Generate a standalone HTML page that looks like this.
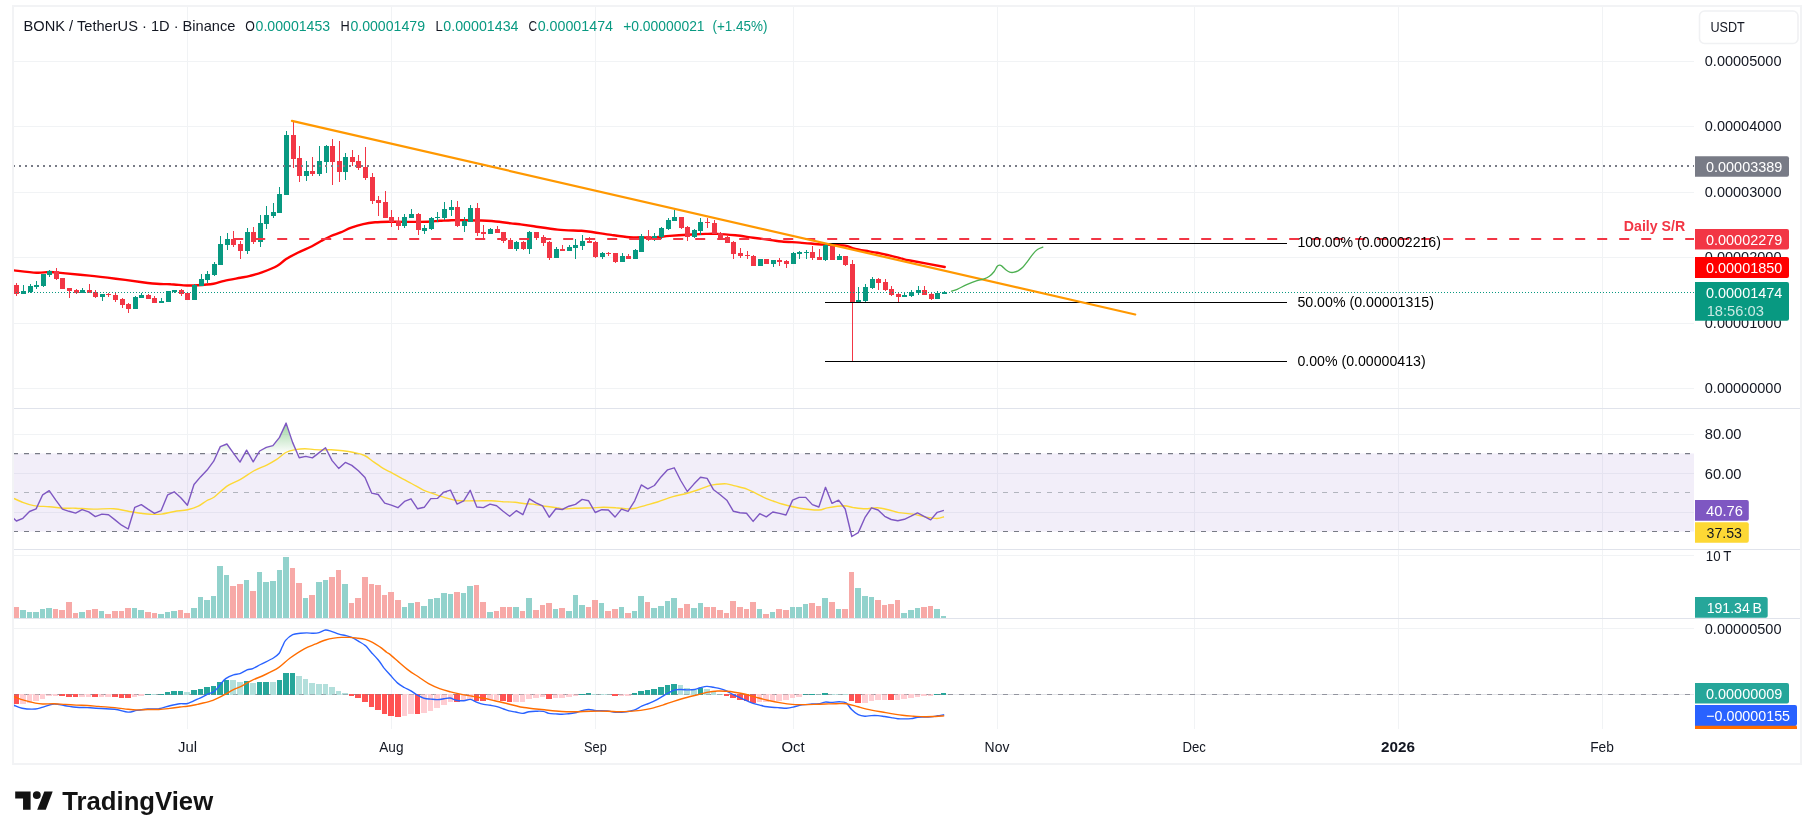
<!DOCTYPE html>
<html lang="en"><head><meta charset="utf-8"><title>BONK / TetherUS chart</title>
<style>html,body{margin:0;padding:0;background:#fff;overflow:hidden}svg{display:block;will-change:transform}text{font-family:"Liberation Sans", Arial, sans-serif;white-space:pre}</style></head><body>
<svg width="1814" height="839" viewBox="0 0 1814 839">
<defs><clipPath id="cp"><rect x="14" y="7" width="1680" height="722"/></clipPath>
<clipPath id="cax"><rect x="1694" y="7" width="106" height="722"/></clipPath>
<linearGradient id="ob" x1="0" y1="423" x2="0" y2="453.5" gradientUnits="userSpaceOnUse"><stop offset="0" stop-color="#4caf50" stop-opacity="0.55"/><stop offset="1" stop-color="#4caf50" stop-opacity="0"/></linearGradient>
<clipPath id="above70"><rect x="14" y="409" width="1680" height="44.5"/></clipPath>
</defs>
<rect width="1814" height="839" fill="#fff"/>
<g fill="#f2f3f5"><rect x="12" y="5" width="1790" height="2"/><rect x="12" y="5" width="2" height="760"/><rect x="1800" y="5" width="2" height="760"/><rect x="12" y="763" width="1790" height="2"/></g>
<g stroke="#f1f3f5" stroke-width="1" shape-rendering="crispEdges">
<line x1="187.5" y1="7" x2="187.5" y2="728.5"/>
<line x1="391.5" y1="7" x2="391.5" y2="728.5"/>
<line x1="595.5" y1="7" x2="595.5" y2="728.5"/>
<line x1="793.5" y1="7" x2="793.5" y2="728.5"/>
<line x1="997.5" y1="7" x2="997.5" y2="728.5"/>
<line x1="1194.5" y1="7" x2="1194.5" y2="728.5"/>
<line x1="1398.5" y1="7" x2="1398.5" y2="728.5"/>
<line x1="1602.5" y1="7" x2="1602.5" y2="728.5"/>
<line x1="14" y1="61.5" x2="1694" y2="61.5"/>
<line x1="14" y1="126.5" x2="1694" y2="126.5"/>
<line x1="14" y1="192.5" x2="1694" y2="192.5"/>
<line x1="14" y1="257.5" x2="1694" y2="257.5"/>
<line x1="14" y1="323.5" x2="1694" y2="323.5"/>
<line x1="14" y1="388.5" x2="1694" y2="388.5"/>
<line x1="14" y1="434.5" x2="1694" y2="434.5"/>
<line x1="14" y1="473.5" x2="1694" y2="473.5"/>
<line x1="14" y1="512.5" x2="1694" y2="512.5"/>
<line x1="14" y1="555.5" x2="1694" y2="555.5"/>
<line x1="14" y1="628.5" x2="1694" y2="628.5"/>
<line x1="14" y1="694.5" x2="1694" y2="694.5"/>
</g>
<g clip-path="url(#cp)">
<rect x="14" y="453.5" width="1680" height="78" fill="#7e57c2" fill-opacity="0.1"/>
<g shape-rendering="crispEdges">
<rect x="13" y="607" width="6" height="11" fill="#f7a9a7"/>
<rect x="20" y="610" width="6" height="8" fill="#92d2cc"/>
<rect x="27" y="612" width="5" height="6" fill="#92d2cc"/>
<rect x="33" y="612" width="6" height="6" fill="#92d2cc"/>
<rect x="40" y="609" width="5" height="9" fill="#92d2cc"/>
<rect x="46" y="608" width="6" height="10" fill="#92d2cc"/>
<rect x="53" y="609" width="5" height="9" fill="#f7a9a7"/>
<rect x="59" y="610" width="6" height="8" fill="#f7a9a7"/>
<rect x="66" y="602" width="6" height="16" fill="#f7a9a7"/>
<rect x="73" y="613" width="5" height="5" fill="#f7a9a7"/>
<rect x="79" y="612" width="6" height="6" fill="#92d2cc"/>
<rect x="86" y="610" width="5" height="8" fill="#f7a9a7"/>
<rect x="92" y="609" width="6" height="9" fill="#f7a9a7"/>
<rect x="99" y="611" width="5" height="7" fill="#92d2cc"/>
<rect x="105" y="614" width="6" height="4" fill="#f7a9a7"/>
<rect x="112" y="611" width="6" height="7" fill="#f7a9a7"/>
<rect x="119" y="611" width="5" height="7" fill="#f7a9a7"/>
<rect x="125" y="608" width="6" height="10" fill="#f7a9a7"/>
<rect x="132" y="608" width="5" height="10" fill="#92d2cc"/>
<rect x="138" y="610" width="6" height="8" fill="#92d2cc"/>
<rect x="145" y="612" width="6" height="6" fill="#f7a9a7"/>
<rect x="152" y="613" width="5" height="5" fill="#f7a9a7"/>
<rect x="158" y="614" width="6" height="4" fill="#92d2cc"/>
<rect x="165" y="612" width="5" height="6" fill="#92d2cc"/>
<rect x="171" y="611" width="6" height="7" fill="#92d2cc"/>
<rect x="178" y="610" width="5" height="8" fill="#f7a9a7"/>
<rect x="184" y="613" width="6" height="5" fill="#f7a9a7"/>
<rect x="191" y="608" width="6" height="10" fill="#92d2cc"/>
<rect x="198" y="597" width="5" height="21" fill="#92d2cc"/>
<rect x="204" y="600" width="6" height="18" fill="#92d2cc"/>
<rect x="211" y="596" width="5" height="22" fill="#92d2cc"/>
<rect x="217" y="566" width="6" height="52" fill="#92d2cc"/>
<rect x="224" y="575" width="5" height="43" fill="#92d2cc"/>
<rect x="230" y="586" width="6" height="32" fill="#f7a9a7"/>
<rect x="237" y="584" width="6" height="34" fill="#f7a9a7"/>
<rect x="244" y="580" width="5" height="38" fill="#92d2cc"/>
<rect x="250" y="591" width="6" height="27" fill="#f7a9a7"/>
<rect x="257" y="572" width="5" height="46" fill="#92d2cc"/>
<rect x="263" y="582" width="6" height="36" fill="#92d2cc"/>
<rect x="270" y="581" width="6" height="37" fill="#92d2cc"/>
<rect x="277" y="570" width="5" height="48" fill="#92d2cc"/>
<rect x="283" y="557" width="6" height="61" fill="#92d2cc"/>
<rect x="290" y="568" width="5" height="50" fill="#f7a9a7"/>
<rect x="296" y="583" width="6" height="35" fill="#f7a9a7"/>
<rect x="303" y="598" width="5" height="20" fill="#92d2cc"/>
<rect x="309" y="595" width="6" height="23" fill="#f7a9a7"/>
<rect x="316" y="582" width="6" height="36" fill="#92d2cc"/>
<rect x="323" y="580" width="5" height="38" fill="#92d2cc"/>
<rect x="329" y="577" width="6" height="41" fill="#f7a9a7"/>
<rect x="336" y="570" width="5" height="48" fill="#f7a9a7"/>
<rect x="342" y="584" width="6" height="34" fill="#92d2cc"/>
<rect x="349" y="603" width="5" height="15" fill="#f7a9a7"/>
<rect x="355" y="598" width="6" height="20" fill="#f7a9a7"/>
<rect x="362" y="577" width="6" height="41" fill="#f7a9a7"/>
<rect x="369" y="584" width="5" height="34" fill="#f7a9a7"/>
<rect x="375" y="585" width="6" height="33" fill="#f7a9a7"/>
<rect x="382" y="595" width="5" height="23" fill="#f7a9a7"/>
<rect x="388" y="592" width="6" height="26" fill="#f7a9a7"/>
<rect x="395" y="600" width="6" height="18" fill="#f7a9a7"/>
<rect x="402" y="607" width="5" height="11" fill="#92d2cc"/>
<rect x="408" y="603" width="6" height="15" fill="#92d2cc"/>
<rect x="415" y="602" width="5" height="16" fill="#f7a9a7"/>
<rect x="421" y="606" width="6" height="12" fill="#92d2cc"/>
<rect x="428" y="599" width="5" height="19" fill="#92d2cc"/>
<rect x="434" y="598" width="6" height="20" fill="#92d2cc"/>
<rect x="441" y="593" width="6" height="25" fill="#92d2cc"/>
<rect x="448" y="594" width="5" height="24" fill="#92d2cc"/>
<rect x="454" y="592" width="6" height="26" fill="#f7a9a7"/>
<rect x="461" y="593" width="5" height="25" fill="#92d2cc"/>
<rect x="467" y="586" width="6" height="32" fill="#92d2cc"/>
<rect x="474" y="585" width="5" height="33" fill="#f7a9a7"/>
<rect x="480" y="602" width="6" height="16" fill="#f7a9a7"/>
<rect x="487" y="612" width="6" height="6" fill="#92d2cc"/>
<rect x="494" y="611" width="5" height="7" fill="#f7a9a7"/>
<rect x="500" y="607" width="6" height="11" fill="#f7a9a7"/>
<rect x="507" y="607" width="5" height="11" fill="#f7a9a7"/>
<rect x="513" y="607" width="6" height="11" fill="#92d2cc"/>
<rect x="520" y="611" width="5" height="7" fill="#f7a9a7"/>
<rect x="526" y="598" width="6" height="20" fill="#92d2cc"/>
<rect x="533" y="610" width="6" height="8" fill="#f7a9a7"/>
<rect x="540" y="605" width="5" height="13" fill="#f7a9a7"/>
<rect x="546" y="603" width="6" height="15" fill="#f7a9a7"/>
<rect x="553" y="609" width="5" height="9" fill="#92d2cc"/>
<rect x="559" y="608" width="6" height="10" fill="#f7a9a7"/>
<rect x="566" y="611" width="6" height="7" fill="#92d2cc"/>
<rect x="573" y="595" width="5" height="23" fill="#92d2cc"/>
<rect x="579" y="605" width="6" height="13" fill="#92d2cc"/>
<rect x="586" y="607" width="5" height="11" fill="#f7a9a7"/>
<rect x="592" y="600" width="6" height="18" fill="#f7a9a7"/>
<rect x="599" y="603" width="5" height="15" fill="#92d2cc"/>
<rect x="605" y="611" width="6" height="7" fill="#f7a9a7"/>
<rect x="612" y="609" width="6" height="9" fill="#f7a9a7"/>
<rect x="619" y="607" width="5" height="11" fill="#92d2cc"/>
<rect x="625" y="613" width="6" height="5" fill="#f7a9a7"/>
<rect x="632" y="611" width="5" height="7" fill="#92d2cc"/>
<rect x="638" y="596" width="6" height="22" fill="#92d2cc"/>
<rect x="645" y="602" width="5" height="16" fill="#f7a9a7"/>
<rect x="651" y="608" width="6" height="10" fill="#92d2cc"/>
<rect x="658" y="606" width="6" height="12" fill="#92d2cc"/>
<rect x="665" y="601" width="5" height="17" fill="#92d2cc"/>
<rect x="671" y="598" width="6" height="20" fill="#92d2cc"/>
<rect x="678" y="608" width="5" height="10" fill="#f7a9a7"/>
<rect x="684" y="604" width="6" height="14" fill="#f7a9a7"/>
<rect x="691" y="608" width="6" height="10" fill="#92d2cc"/>
<rect x="698" y="603" width="5" height="15" fill="#92d2cc"/>
<rect x="704" y="607" width="6" height="11" fill="#f7a9a7"/>
<rect x="711" y="607" width="5" height="11" fill="#f7a9a7"/>
<rect x="717" y="610" width="6" height="8" fill="#f7a9a7"/>
<rect x="724" y="613" width="5" height="5" fill="#f7a9a7"/>
<rect x="730" y="601" width="6" height="17" fill="#f7a9a7"/>
<rect x="737" y="607" width="6" height="11" fill="#f7a9a7"/>
<rect x="744" y="609" width="5" height="9" fill="#f7a9a7"/>
<rect x="750" y="602" width="6" height="16" fill="#f7a9a7"/>
<rect x="757" y="609" width="5" height="9" fill="#92d2cc"/>
<rect x="763" y="614" width="6" height="4" fill="#f7a9a7"/>
<rect x="770" y="612" width="5" height="6" fill="#92d2cc"/>
<rect x="776" y="609" width="6" height="9" fill="#f7a9a7"/>
<rect x="783" y="610" width="6" height="8" fill="#f7a9a7"/>
<rect x="790" y="607" width="5" height="11" fill="#92d2cc"/>
<rect x="796" y="607" width="6" height="11" fill="#92d2cc"/>
<rect x="803" y="604" width="5" height="14" fill="#92d2cc"/>
<rect x="809" y="603" width="6" height="15" fill="#f7a9a7"/>
<rect x="816" y="606" width="5" height="12" fill="#f7a9a7"/>
<rect x="822" y="598" width="6" height="20" fill="#92d2cc"/>
<rect x="829" y="602" width="6" height="16" fill="#f7a9a7"/>
<rect x="836" y="609" width="5" height="9" fill="#92d2cc"/>
<rect x="842" y="609" width="6" height="9" fill="#f7a9a7"/>
<rect x="849" y="572" width="5" height="46" fill="#f7a9a7"/>
<rect x="855" y="588" width="6" height="30" fill="#92d2cc"/>
<rect x="862" y="596" width="6" height="22" fill="#92d2cc"/>
<rect x="869" y="597" width="5" height="21" fill="#92d2cc"/>
<rect x="875" y="600" width="6" height="18" fill="#f7a9a7"/>
<rect x="882" y="605" width="5" height="13" fill="#f7a9a7"/>
<rect x="888" y="604" width="6" height="14" fill="#f7a9a7"/>
<rect x="895" y="600" width="5" height="18" fill="#f7a9a7"/>
<rect x="901" y="613" width="6" height="5" fill="#92d2cc"/>
<rect x="908" y="610" width="6" height="8" fill="#92d2cc"/>
<rect x="915" y="608" width="5" height="10" fill="#92d2cc"/>
<rect x="921" y="607" width="6" height="11" fill="#f7a9a7"/>
<rect x="928" y="606" width="5" height="12" fill="#f7a9a7"/>
<rect x="934" y="609" width="6" height="9" fill="#92d2cc"/>
<rect x="941" y="616" width="5" height="2" fill="#92d2cc"/>
</g>
<line x1="14" y1="694.5" x2="1694" y2="694.5" stroke="#e4e5e9" stroke-width="1"/>
<line x1="13" y1="694.5" x2="1694" y2="694.5" stroke="#a9acb4" stroke-width="1.1" stroke-dasharray="5 6"/>
<g shape-rendering="crispEdges">
<rect x="13" y="694" width="6" height="10" fill="#ff5252"/>
<rect x="20" y="694" width="6" height="10" fill="#ffcdd2"/>
<rect x="27" y="694" width="5" height="9" fill="#ffcdd2"/>
<rect x="33" y="694" width="6" height="7" fill="#ffcdd2"/>
<rect x="40" y="694" width="5" height="5" fill="#ffcdd2"/>
<rect x="46" y="694" width="6" height="2" fill="#ffcdd2"/>
<rect x="53" y="694" width="5" height="2" fill="#ffcdd2"/>
<rect x="59" y="694" width="6" height="2" fill="#ff5252"/>
<rect x="66" y="694" width="6" height="3" fill="#ff5252"/>
<rect x="73" y="694" width="5" height="3" fill="#ff5252"/>
<rect x="79" y="694" width="6" height="3" fill="#ffcdd2"/>
<rect x="86" y="694" width="5" height="3" fill="#ffcdd2"/>
<rect x="92" y="694" width="6" height="3" fill="#ff5252"/>
<rect x="99" y="694" width="5" height="3" fill="#ffcdd2"/>
<rect x="105" y="694" width="6" height="3" fill="#ffcdd2"/>
<rect x="112" y="694" width="6" height="3" fill="#ff5252"/>
<rect x="119" y="694" width="5" height="4" fill="#ff5252"/>
<rect x="125" y="694" width="6" height="4" fill="#ff5252"/>
<rect x="132" y="694" width="5" height="3" fill="#ffcdd2"/>
<rect x="138" y="694" width="6" height="2" fill="#ffcdd2"/>
<rect x="145" y="694" width="6" height="1" fill="#26a69a"/>
<rect x="152" y="694" width="5" height="1" fill="#b2dfdb"/>
<rect x="158" y="694" width="6" height="1" fill="#26a69a"/>
<rect x="165" y="692" width="5" height="3" fill="#26a69a"/>
<rect x="171" y="691" width="6" height="4" fill="#26a69a"/>
<rect x="178" y="691" width="5" height="4" fill="#26a69a"/>
<rect x="184" y="692" width="6" height="3" fill="#b2dfdb"/>
<rect x="191" y="690" width="6" height="5" fill="#26a69a"/>
<rect x="198" y="689" width="5" height="6" fill="#26a69a"/>
<rect x="204" y="687" width="6" height="8" fill="#26a69a"/>
<rect x="211" y="686" width="5" height="9" fill="#26a69a"/>
<rect x="217" y="682" width="6" height="13" fill="#26a69a"/>
<rect x="224" y="680" width="5" height="15" fill="#26a69a"/>
<rect x="230" y="680" width="6" height="15" fill="#b2dfdb"/>
<rect x="237" y="682" width="6" height="13" fill="#b2dfdb"/>
<rect x="244" y="681" width="5" height="14" fill="#26a69a"/>
<rect x="250" y="683" width="6" height="12" fill="#b2dfdb"/>
<rect x="257" y="682" width="5" height="13" fill="#26a69a"/>
<rect x="263" y="682" width="6" height="13" fill="#26a69a"/>
<rect x="270" y="682" width="6" height="13" fill="#b2dfdb"/>
<rect x="277" y="680" width="5" height="15" fill="#26a69a"/>
<rect x="283" y="673" width="6" height="22" fill="#26a69a"/>
<rect x="290" y="673" width="5" height="22" fill="#26a69a"/>
<rect x="296" y="676" width="6" height="19" fill="#b2dfdb"/>
<rect x="303" y="679" width="5" height="16" fill="#b2dfdb"/>
<rect x="309" y="683" width="6" height="12" fill="#b2dfdb"/>
<rect x="316" y="684" width="6" height="11" fill="#b2dfdb"/>
<rect x="323" y="684" width="5" height="11" fill="#b2dfdb"/>
<rect x="329" y="687" width="6" height="8" fill="#b2dfdb"/>
<rect x="336" y="691" width="5" height="4" fill="#b2dfdb"/>
<rect x="342" y="693" width="6" height="2" fill="#b2dfdb"/>
<rect x="349" y="694" width="5" height="2" fill="#ff5252"/>
<rect x="355" y="694" width="6" height="4" fill="#ff5252"/>
<rect x="362" y="694" width="6" height="8" fill="#ff5252"/>
<rect x="369" y="694" width="5" height="13" fill="#ff5252"/>
<rect x="375" y="694" width="6" height="16" fill="#ff5252"/>
<rect x="382" y="694" width="5" height="20" fill="#ff5252"/>
<rect x="388" y="694" width="6" height="22" fill="#ff5252"/>
<rect x="395" y="694" width="6" height="23" fill="#ff5252"/>
<rect x="402" y="694" width="5" height="22" fill="#ffcdd2"/>
<rect x="408" y="694" width="6" height="20" fill="#ffcdd2"/>
<rect x="415" y="694" width="5" height="20" fill="#ff5252"/>
<rect x="421" y="694" width="6" height="19" fill="#ffcdd2"/>
<rect x="428" y="694" width="5" height="17" fill="#ffcdd2"/>
<rect x="434" y="694" width="6" height="14" fill="#ffcdd2"/>
<rect x="441" y="694" width="6" height="11" fill="#ffcdd2"/>
<rect x="448" y="694" width="5" height="8" fill="#ffcdd2"/>
<rect x="454" y="694" width="6" height="8" fill="#ff5252"/>
<rect x="461" y="694" width="5" height="7" fill="#ffcdd2"/>
<rect x="467" y="694" width="6" height="5" fill="#ffcdd2"/>
<rect x="474" y="694" width="5" height="7" fill="#ff5252"/>
<rect x="480" y="694" width="6" height="7" fill="#ff5252"/>
<rect x="487" y="694" width="6" height="6" fill="#ffcdd2"/>
<rect x="494" y="694" width="5" height="6" fill="#ffcdd2"/>
<rect x="500" y="694" width="6" height="7" fill="#ff5252"/>
<rect x="507" y="694" width="5" height="8" fill="#ff5252"/>
<rect x="513" y="694" width="6" height="8" fill="#ffcdd2"/>
<rect x="520" y="694" width="5" height="8" fill="#ffcdd2"/>
<rect x="526" y="694" width="6" height="5" fill="#ffcdd2"/>
<rect x="533" y="694" width="6" height="4" fill="#ffcdd2"/>
<rect x="540" y="694" width="5" height="3" fill="#ffcdd2"/>
<rect x="546" y="694" width="6" height="5" fill="#ff5252"/>
<rect x="553" y="694" width="5" height="4" fill="#ffcdd2"/>
<rect x="559" y="694" width="6" height="4" fill="#ffcdd2"/>
<rect x="566" y="694" width="6" height="3" fill="#ffcdd2"/>
<rect x="573" y="694" width="5" height="2" fill="#ffcdd2"/>
<rect x="579" y="694" width="6" height="1" fill="#26a69a"/>
<rect x="586" y="693" width="5" height="2" fill="#26a69a"/>
<rect x="592" y="694" width="6" height="1" fill="#b2dfdb"/>
<rect x="599" y="694" width="5" height="1" fill="#b2dfdb"/>
<rect x="605" y="694" width="6" height="1" fill="#b2dfdb"/>
<rect x="612" y="694" width="6" height="2" fill="#ff5252"/>
<rect x="619" y="694" width="5" height="2" fill="#ffcdd2"/>
<rect x="625" y="694" width="6" height="2" fill="#ffcdd2"/>
<rect x="632" y="693" width="5" height="2" fill="#26a69a"/>
<rect x="638" y="691" width="6" height="4" fill="#26a69a"/>
<rect x="645" y="690" width="5" height="5" fill="#26a69a"/>
<rect x="651" y="689" width="6" height="6" fill="#26a69a"/>
<rect x="658" y="687" width="6" height="8" fill="#26a69a"/>
<rect x="665" y="685" width="5" height="10" fill="#26a69a"/>
<rect x="671" y="684" width="6" height="11" fill="#26a69a"/>
<rect x="678" y="685" width="5" height="10" fill="#b2dfdb"/>
<rect x="684" y="688" width="6" height="7" fill="#b2dfdb"/>
<rect x="691" y="690" width="6" height="5" fill="#b2dfdb"/>
<rect x="698" y="688" width="5" height="7" fill="#26a69a"/>
<rect x="704" y="689" width="6" height="6" fill="#b2dfdb"/>
<rect x="711" y="692" width="5" height="3" fill="#b2dfdb"/>
<rect x="717" y="694" width="6" height="1" fill="#b2dfdb"/>
<rect x="724" y="694" width="5" height="2" fill="#ff5252"/>
<rect x="730" y="694" width="6" height="4" fill="#ff5252"/>
<rect x="737" y="694" width="6" height="6" fill="#ff5252"/>
<rect x="744" y="694" width="5" height="7" fill="#ff5252"/>
<rect x="750" y="694" width="6" height="9" fill="#ff5252"/>
<rect x="757" y="694" width="5" height="8" fill="#ffcdd2"/>
<rect x="763" y="694" width="6" height="8" fill="#ffcdd2"/>
<rect x="770" y="694" width="5" height="7" fill="#ffcdd2"/>
<rect x="776" y="694" width="6" height="7" fill="#ffcdd2"/>
<rect x="783" y="694" width="6" height="6" fill="#ffcdd2"/>
<rect x="790" y="694" width="5" height="4" fill="#ffcdd2"/>
<rect x="796" y="694" width="6" height="3" fill="#ffcdd2"/>
<rect x="803" y="694" width="5" height="1" fill="#26a69a"/>
<rect x="809" y="694" width="6" height="1" fill="#26a69a"/>
<rect x="816" y="694" width="5" height="1" fill="#b2dfdb"/>
<rect x="822" y="693" width="6" height="2" fill="#26a69a"/>
<rect x="829" y="694" width="6" height="1" fill="#b2dfdb"/>
<rect x="836" y="694" width="5" height="1" fill="#b2dfdb"/>
<rect x="842" y="694" width="6" height="1" fill="#b2dfdb"/>
<rect x="849" y="694" width="5" height="7" fill="#ff5252"/>
<rect x="855" y="694" width="6" height="9" fill="#ff5252"/>
<rect x="862" y="694" width="6" height="9" fill="#ffcdd2"/>
<rect x="869" y="694" width="5" height="7" fill="#ffcdd2"/>
<rect x="875" y="694" width="6" height="6" fill="#ffcdd2"/>
<rect x="882" y="694" width="5" height="6" fill="#ffcdd2"/>
<rect x="888" y="694" width="6" height="6" fill="#ff5252"/>
<rect x="895" y="694" width="5" height="6" fill="#ffcdd2"/>
<rect x="901" y="694" width="6" height="5" fill="#ffcdd2"/>
<rect x="908" y="694" width="6" height="4" fill="#ffcdd2"/>
<rect x="915" y="694" width="5" height="3" fill="#ffcdd2"/>
<rect x="921" y="694" width="6" height="2" fill="#ffcdd2"/>
<rect x="928" y="694" width="5" height="2" fill="#ffcdd2"/>
<rect x="934" y="694" width="6" height="1" fill="#26a69a"/>
<rect x="941" y="693" width="5" height="2" fill="#26a69a"/>
</g>
<line x1="13" y1="694.5" x2="1694" y2="694.5" stroke="#787b86" stroke-opacity="0.45" stroke-width="1.1" stroke-dasharray="5 6"/>
<g stroke-width="1.15" stroke-dasharray="5 6" fill="none"><line x1="13" y1="453.6" x2="1694" y2="453.6" stroke="#787b86"/><line x1="13" y1="531.5" x2="1694" y2="531.5" stroke="#787b86"/><line x1="13" y1="492.5" x2="1694" y2="492.5" stroke="#b2b5be"/></g>
<polygon clip-path="url(#above70)" fill="url(#ob)" points="9.8,515.0 16.4,521.0 22.9,518.3 29.5,511.5 36.1,508.9 42.7,494.8 49.2,490.7 55.8,500.2 62.4,509.1 69.0,511.3 75.6,513.1 82.1,509.7 88.7,511.9 95.3,516.6 101.9,514.1 108.5,514.7 115.0,519.9 121.6,525.2 128.2,529.0 134.8,507.3 141.3,504.6 147.9,509.1 154.5,513.3 161.1,510.7 167.7,494.8 174.2,491.8 180.8,497.8 187.4,505.3 194.0,484.5 200.5,476.9 207.1,470.1 213.7,461.2 220.3,446.6 226.9,444.0 233.4,453.1 240.0,462.1 246.6,450.2 253.2,461.8 259.7,451.0 266.3,447.4 272.9,445.6 279.5,437.4 286.1,423.1 292.6,442.4 299.2,457.7 305.8,456.4 312.4,457.9 318.9,452.9 325.5,447.8 332.1,460.6 338.7,468.4 345.3,462.4 351.8,465.4 358.4,470.8 365.0,477.6 371.6,493.1 378.2,494.5 384.7,503.2 391.3,505.2 397.9,507.7 404.5,501.4 411.0,498.8 417.6,508.8 424.2,507.3 430.8,498.6 437.4,498.4 443.9,492.1 450.5,490.1 457.1,504.1 463.7,500.8 470.2,490.3 476.8,507.0 483.4,507.6 490.0,504.1 496.6,505.8 503.1,511.2 509.7,516.3 516.3,510.7 522.9,514.7 529.4,498.8 536.0,502.8 542.6,505.9 549.2,517.2 555.8,508.8 562.3,509.5 568.9,506.2 575.5,504.4 582.1,499.4 588.6,500.8 595.2,512.5 601.8,509.7 608.4,510.0 615.0,517.1 621.5,509.1 628.1,511.3 634.7,500.8 641.3,484.9 647.8,488.9 654.4,485.5 661.0,476.9 667.6,469.8 674.2,467.8 680.7,480.5 687.3,491.5 693.9,484.1 700.5,477.2 707.1,478.4 713.6,489.8 720.2,494.8 726.8,500.2 733.4,511.3 739.9,512.7 746.5,513.3 753.1,521.4 759.7,513.7 766.3,516.9 772.8,512.0 779.4,513.4 786.0,515.0 792.6,500.1 799.1,497.4 805.7,497.4 812.3,504.6 818.9,507.0 825.5,487.3 832.0,503.4 838.6,500.1 845.2,509.0 851.8,536.5 858.3,532.6 864.9,517.7 871.5,507.8 878.1,510.0 884.7,516.3 891.2,519.5 897.8,520.7 904.4,519.3 911.0,516.2 917.5,512.9 924.1,516.3 930.7,519.9 937.3,512.3 943.9,510.4 943.9,453.5 9.8,453.5"/>
<path fill="none" stroke="#fdd835" stroke-width="1.4" stroke-linejoin="round" d="M9.0 496.0C9.7 496.3 10.8 497.0 13.0 498.0C15.2 499.0 18.4 500.7 21.9 502.0C25.4 503.3 29.2 504.8 33.8 505.6C38.4 506.4 44.3 506.3 49.3 506.7C54.3 507.1 59.2 507.9 63.6 508.2C68.0 508.4 70.6 508.0 75.6 508.2C80.6 508.4 87.1 509.0 93.4 509.1C99.8 509.2 107.7 508.3 113.7 508.7C119.7 509.1 124.6 510.7 129.2 511.5C133.8 512.3 137.5 512.8 141.1 513.3C144.7 513.8 147.2 514.2 150.6 514.3C154.0 514.4 157.4 514.6 161.4 514.1C165.4 513.6 170.1 512.2 174.5 511.5C178.9 510.8 183.6 510.6 187.6 509.7C191.6 508.8 195.1 507.7 198.3 506.2C201.5 504.7 204.3 502.0 207.0 500.5C209.7 499.0 210.9 499.4 214.3 497.0C217.7 494.6 223.0 488.8 227.4 485.9C231.8 483.0 236.1 481.9 240.5 479.4C244.9 476.9 249.2 473.4 253.6 471.0C258.0 468.6 262.9 467.0 266.7 465.1C270.5 463.2 273.1 461.8 276.3 459.7C279.5 457.6 282.6 454.2 285.8 452.5C289.0 450.8 292.2 450.2 295.4 449.6C298.6 449.0 301.7 448.7 304.9 448.7C308.1 448.7 311.0 449.4 314.4 449.6C317.8 449.8 322.3 449.9 325.1 449.9C327.9 449.9 328.1 449.6 331.1 449.8C334.1 450.0 339.2 450.4 343.0 450.8C346.8 451.2 350.2 451.7 353.8 452.5C357.4 453.3 361.1 453.9 364.5 455.5C367.9 457.1 370.8 459.9 374.0 462.1C377.2 464.3 380.8 466.9 383.6 468.6C386.4 470.3 388.1 470.8 390.7 472.2C393.3 473.6 396.0 475.3 399.5 477.2C403.0 479.1 407.5 481.4 411.5 483.5C415.5 485.6 419.8 488.4 423.4 490.1C427.0 491.8 429.5 492.4 432.9 493.6C436.3 494.8 439.6 496.1 443.6 497.2C447.6 498.3 451.7 499.9 456.7 500.5C461.7 501.1 467.6 500.8 473.4 500.8C479.2 500.9 486.3 500.7 491.3 500.8C496.3 500.9 499.2 501.4 503.2 501.7C507.2 501.9 511.7 502.0 515.1 502.3C518.5 502.6 520.5 503.2 523.5 503.5C526.5 503.8 529.4 503.7 533.0 504.1C536.6 504.6 540.9 505.6 544.9 506.2C548.9 506.8 553.7 507.2 556.9 507.7C560.1 508.1 561.0 508.8 564.0 508.9C567.0 509.0 571.2 508.4 574.7 508.3C578.2 508.2 582.1 508.1 585.0 508.0C587.9 507.9 588.8 508.0 591.9 507.9C595.0 507.8 599.8 507.3 603.8 507.3C607.8 507.3 612.2 507.4 615.8 507.7C619.4 507.9 622.3 508.7 625.3 508.8C628.3 508.9 630.2 509.1 633.6 508.5C637.0 507.9 641.6 506.4 645.6 505.3C649.6 504.2 652.9 503.4 657.5 502.0C662.1 500.6 668.0 498.1 673.0 496.6C678.0 495.2 682.9 494.5 687.3 493.3C691.7 492.1 695.6 490.7 699.2 489.5C702.8 488.3 705.7 486.8 708.7 485.9C711.7 485.0 714.1 484.6 717.1 484.3C720.1 484.0 723.6 483.6 726.6 483.9C729.6 484.2 731.5 485.0 734.9 485.9C738.3 486.8 743.3 487.8 746.9 489.1C750.5 490.4 753.2 492.1 756.4 493.6C759.6 495.2 763.1 497.2 765.9 498.4C768.7 499.6 770.4 500.1 773.1 501.0C775.8 501.9 777.5 502.8 781.9 504.0C786.3 505.2 793.6 507.2 799.8 508.2C806.0 509.2 814.3 510.1 818.9 510.0C823.5 509.9 823.0 508.6 827.2 507.9C831.4 507.2 839.5 505.9 843.9 505.8C848.3 505.8 849.8 507.1 853.4 507.6C857.0 508.1 861.4 508.8 865.4 508.8C869.4 508.8 873.3 507.6 877.3 507.8C881.3 508.0 885.6 509.2 889.2 510.0C892.8 510.8 894.7 511.9 898.7 512.6C902.7 513.3 908.6 513.4 913.0 514.1C917.4 514.8 920.9 516.2 924.9 516.9C928.9 517.6 933.7 518.5 936.9 518.5C940.1 518.5 942.8 517.1 944.0 516.8"/>
<polyline fill="none" stroke="#7e57c2" stroke-width="1.4" stroke-linejoin="round" points="9.8,515.0 16.4,521.0 22.9,518.3 29.5,511.5 36.1,508.9 42.7,494.8 49.2,490.7 55.8,500.2 62.4,509.1 69.0,511.3 75.6,513.1 82.1,509.7 88.7,511.9 95.3,516.6 101.9,514.1 108.5,514.7 115.0,519.9 121.6,525.2 128.2,529.0 134.8,507.3 141.3,504.6 147.9,509.1 154.5,513.3 161.1,510.7 167.7,494.8 174.2,491.8 180.8,497.8 187.4,505.3 194.0,484.5 200.5,476.9 207.1,470.1 213.7,461.2 220.3,446.6 226.9,444.0 233.4,453.1 240.0,462.1 246.6,450.2 253.2,461.8 259.7,451.0 266.3,447.4 272.9,445.6 279.5,437.4 286.1,423.1 292.6,442.4 299.2,457.7 305.8,456.4 312.4,457.9 318.9,452.9 325.5,447.8 332.1,460.6 338.7,468.4 345.3,462.4 351.8,465.4 358.4,470.8 365.0,477.6 371.6,493.1 378.2,494.5 384.7,503.2 391.3,505.2 397.9,507.7 404.5,501.4 411.0,498.8 417.6,508.8 424.2,507.3 430.8,498.6 437.4,498.4 443.9,492.1 450.5,490.1 457.1,504.1 463.7,500.8 470.2,490.3 476.8,507.0 483.4,507.6 490.0,504.1 496.6,505.8 503.1,511.2 509.7,516.3 516.3,510.7 522.9,514.7 529.4,498.8 536.0,502.8 542.6,505.9 549.2,517.2 555.8,508.8 562.3,509.5 568.9,506.2 575.5,504.4 582.1,499.4 588.6,500.8 595.2,512.5 601.8,509.7 608.4,510.0 615.0,517.1 621.5,509.1 628.1,511.3 634.7,500.8 641.3,484.9 647.8,488.9 654.4,485.5 661.0,476.9 667.6,469.8 674.2,467.8 680.7,480.5 687.3,491.5 693.9,484.1 700.5,477.2 707.1,478.4 713.6,489.8 720.2,494.8 726.8,500.2 733.4,511.3 739.9,512.7 746.5,513.3 753.1,521.4 759.7,513.7 766.3,516.9 772.8,512.0 779.4,513.4 786.0,515.0 792.6,500.1 799.1,497.4 805.7,497.4 812.3,504.6 818.9,507.0 825.5,487.3 832.0,503.4 838.6,500.1 845.2,509.0 851.8,536.5 858.3,532.6 864.9,517.7 871.5,507.8 878.1,510.0 884.7,516.3 891.2,519.5 897.8,520.7 904.4,519.3 911.0,516.2 917.5,512.9 924.1,516.3 930.7,519.9 937.3,512.3 943.9,510.4"/>
<path fill="none" stroke="#2962ff" stroke-width="1.4" stroke-linejoin="round" d="M9.0 703.5C9.7 703.8 11.1 704.3 13.3 705.1C15.5 705.9 18.4 707.6 22.1 708.2C25.8 708.9 31.9 709.2 35.4 709.0C38.9 708.8 40.0 707.9 43.1 707.1C46.2 706.3 50.4 704.2 54.1 704.0C57.8 703.8 61.4 705.2 65.1 705.7C68.8 706.2 72.5 707.0 76.2 707.3C79.9 707.6 83.9 707.5 87.2 707.6C90.5 707.8 91.4 707.9 96.0 708.2C100.6 708.5 109.4 708.6 114.7 709.3C120.0 709.9 124.3 711.9 128.0 712.1C131.7 712.3 133.5 710.9 136.8 710.4C140.1 709.9 144.1 709.3 147.8 709.0C151.5 708.7 155.1 709.3 158.8 708.8C162.5 708.2 166.4 706.6 169.9 705.7C173.4 704.9 176.9 704.1 179.8 703.7C182.7 703.3 184.6 704.3 187.5 703.5C190.4 702.7 195.3 700.0 197.4 699.1C199.5 698.2 198.3 699.0 200.0 698.2C201.7 697.4 205.3 695.2 207.7 694.1C210.1 693.0 212.3 692.9 214.2 691.5C216.1 690.1 217.4 687.9 219.3 685.7C221.2 683.6 223.3 680.4 225.7 678.6C228.1 676.8 231.1 675.6 233.5 674.8C235.9 674.0 237.7 674.5 239.9 673.7C242.2 672.9 244.8 670.8 247.0 669.9C249.2 669.0 250.6 669.5 252.8 668.6C255.1 667.7 257.1 666.3 260.5 664.5C263.9 662.7 270.3 659.9 273.4 658.0C276.5 656.1 277.7 655.2 279.2 653.3C280.7 651.4 281.3 648.6 282.4 646.5C283.5 644.4 283.9 642.4 285.6 640.4C287.3 638.4 290.2 635.8 292.7 634.6C295.2 633.4 298.0 633.6 300.4 633.3C302.8 633.0 304.6 632.9 306.8 632.9C309.0 632.9 311.2 633.3 313.3 633.3C315.4 633.2 317.1 633.1 319.1 632.6C321.1 632.1 323.5 630.2 325.5 630.0C327.5 629.8 329.1 630.6 331.3 631.3C333.6 632.0 336.6 633.5 339.0 634.2C341.4 634.9 343.2 635.0 345.4 635.5C347.5 636.0 349.8 636.5 351.9 637.4C354.0 638.3 356.1 639.7 358.3 641.1C360.6 642.5 363.2 643.8 365.4 645.6C367.5 647.5 369.0 649.8 371.2 652.2C373.4 654.6 376.1 657.4 378.3 660.0C380.5 662.6 382.2 665.6 384.1 668.1C386.1 670.6 387.7 672.3 390.0 674.8C392.3 677.3 395.3 681.0 397.7 683.1C400.1 685.2 402.1 686.2 404.3 687.5C406.5 688.8 408.7 689.5 410.9 690.8C413.1 692.1 415.4 694.0 417.6 695.2C419.8 696.5 422.0 697.6 424.2 698.3C426.4 698.9 428.6 698.9 430.8 699.1C433.0 699.3 435.2 699.7 437.4 699.6C439.6 699.5 441.9 699.1 444.0 698.8C446.1 698.5 448.1 697.8 450.1 698.0C452.1 698.2 453.9 699.8 456.2 700.2C458.5 700.7 461.5 700.8 463.9 700.7C466.3 700.6 468.3 699.1 470.5 699.4C472.7 699.7 474.9 701.6 477.1 702.4C479.3 703.2 481.5 703.9 483.7 704.4C485.9 704.9 488.1 704.9 490.3 705.3C492.5 705.7 494.7 706.0 496.9 706.6C499.1 707.2 501.6 708.3 503.6 709.0C505.6 709.7 507.1 710.4 509.1 710.9C511.1 711.4 513.5 711.6 515.7 712.0C517.9 712.4 520.1 713.4 522.3 713.4C524.5 713.4 526.7 712.1 528.9 711.7C531.1 711.3 533.1 711.2 535.5 711.2C537.9 711.2 541.1 711.0 543.3 711.4C545.5 711.8 546.8 713.0 548.8 713.4C550.8 713.8 553.2 713.8 555.4 713.9C557.6 714.0 559.8 714.2 562.0 714.2C564.2 714.2 566.4 713.9 568.6 713.7C570.8 713.5 573.0 713.3 575.2 712.8C577.4 712.3 579.5 711.1 581.8 710.6C584.1 710.1 586.3 709.5 588.8 709.5C591.2 709.5 593.4 710.4 596.5 710.6C599.6 710.8 604.5 710.6 607.6 710.9C610.7 711.2 612.2 712.2 615.3 712.3C618.4 712.4 623.2 712.1 626.3 711.7C629.4 711.3 631.4 711.0 634.0 710.1C636.6 709.2 639.3 707.3 641.7 706.2C644.1 705.1 646.2 704.4 648.4 703.5C650.6 702.6 652.8 701.8 655.0 700.7C657.2 699.6 659.4 698.2 661.6 696.9C663.8 695.6 666.0 694.2 668.2 693.0C670.4 691.8 672.6 690.5 674.8 689.9C677.0 689.3 679.2 689.5 681.4 689.5C683.6 689.5 685.8 689.9 688.0 689.9C690.2 689.9 692.7 689.9 694.7 689.5C696.7 689.1 698.2 688.3 700.2 687.8C702.2 687.3 704.6 686.5 706.8 686.4C709.0 686.3 711.2 686.9 713.4 687.3C715.6 687.7 717.8 688.0 720.0 688.6C722.2 689.2 724.4 690.0 726.6 691.0C728.8 692.0 731.1 693.6 733.3 694.7C735.5 695.8 737.7 696.7 739.9 697.7C742.1 698.7 744.3 699.8 746.5 700.7C748.7 701.6 750.9 702.6 753.1 703.3C755.3 704.0 757.3 704.5 759.7 705.1C762.1 705.7 764.2 706.4 767.4 706.8C770.6 707.2 775.6 707.5 778.8 707.7C782.0 707.9 784.1 708.3 786.5 708.2C788.9 708.1 790.6 707.7 793.2 707.1C795.8 706.5 798.9 705.4 802.0 704.9C805.1 704.4 809.0 704.2 811.9 704.0C814.8 703.8 817.4 704.1 819.6 703.8C821.8 703.5 823.1 702.3 825.1 702.1C827.1 701.9 829.3 702.5 831.7 702.4C834.1 702.3 837.1 701.7 839.5 701.8C841.9 701.9 844.1 701.6 846.1 702.9C848.1 704.2 849.6 707.5 851.6 709.5C853.6 711.5 856.0 713.6 858.2 714.7C860.4 715.8 862.6 716.1 864.8 716.2C867.0 716.4 869.2 715.7 871.4 715.6C873.6 715.5 875.8 715.5 878.0 715.6C880.2 715.8 882.5 716.2 884.7 716.5C886.9 716.8 889.1 717.2 891.3 717.6C893.5 718.0 895.7 718.5 897.9 718.7C900.1 718.9 902.3 718.9 904.5 718.9C906.7 718.9 908.9 718.9 911.1 718.6C913.3 718.3 915.5 717.6 917.7 717.3C919.9 717.0 922.2 717.1 924.4 717.0C926.6 716.9 928.8 717.1 931.0 716.9C933.2 716.7 935.4 716.2 937.6 715.8C939.8 715.4 943.1 714.9 944.2 714.7"/>
<path fill="none" stroke="#ff6d00" stroke-width="1.4" stroke-linejoin="round" d="M9.0 694.5C9.7 694.8 11.3 695.5 13.3 696.3C15.3 697.1 17.3 698.3 21.0 699.4C24.7 700.5 31.7 702.3 35.4 703.1C39.1 703.9 40.0 703.9 43.1 704.0C46.2 704.1 50.4 703.6 54.1 703.7C57.8 703.8 61.4 704.2 65.1 704.4C68.8 704.6 72.5 704.9 76.2 705.1C79.9 705.3 83.5 705.3 87.2 705.5C90.9 705.7 93.6 706.0 98.2 706.4C102.8 706.8 109.7 707.1 114.7 707.6C119.7 708.1 124.3 708.9 128.0 709.3C131.7 709.7 133.5 709.9 136.8 709.9C140.1 709.9 144.1 709.6 147.8 709.5C151.5 709.4 155.1 709.7 158.8 709.5C162.5 709.3 166.4 708.8 169.9 708.4C173.4 708.0 176.9 707.4 179.8 707.0C182.7 706.6 184.6 706.6 187.5 706.2C190.4 705.8 195.3 704.8 197.4 704.4C199.5 704.0 197.4 704.4 200.0 703.7C202.6 703.0 208.6 701.9 212.9 700.3C217.2 698.7 222.3 695.9 225.7 694.1C229.1 692.3 230.9 690.9 233.5 689.6C236.1 688.3 238.2 687.9 241.2 686.4C244.2 684.9 247.6 682.5 251.5 680.6C255.4 678.7 259.9 677.1 264.4 675.0C268.9 672.9 274.2 670.5 278.5 667.7C282.8 664.9 285.8 661.1 290.1 658.0C294.4 654.9 300.0 651.1 304.3 648.8C308.6 646.4 312.3 645.4 315.8 643.9C319.3 642.4 322.5 641.0 325.5 640.0C328.5 639.0 331.2 638.5 333.9 638.1C336.6 637.7 339.0 637.5 341.6 637.4C344.2 637.3 346.7 637.3 349.3 637.4C351.9 637.5 354.3 637.8 357.0 638.1C359.7 638.4 362.8 638.7 365.4 639.4C368.0 640.1 370.0 641.0 372.5 642.3C375.0 643.6 377.8 645.5 380.2 647.1C382.6 648.8 385.0 651.0 386.6 652.2C388.2 653.4 388.0 652.8 390.0 654.4C392.0 656.0 395.7 659.4 398.8 662.1C401.9 664.8 405.4 667.9 408.7 670.4C412.0 672.9 415.4 674.8 418.7 677.0C422.0 679.2 425.1 681.7 428.6 683.6C432.1 685.5 435.9 687.2 439.6 688.6C443.3 690.0 446.9 690.9 450.6 691.9C454.3 692.9 458.0 693.7 461.7 694.4C465.4 695.1 469.0 695.6 472.7 696.3C476.4 696.9 480.0 697.6 483.7 698.3C487.4 699.0 491.0 699.9 494.7 700.7C498.4 701.5 502.1 702.4 505.8 703.3C509.5 704.2 514.0 705.3 516.8 706.0C519.5 706.7 519.5 706.8 522.3 707.3C525.0 707.8 529.6 708.3 533.3 708.7C537.0 709.1 540.7 709.4 544.4 709.8C548.1 710.2 551.7 710.7 555.4 711.0C559.1 711.3 562.7 711.6 566.4 711.7C570.1 711.8 573.3 711.8 577.4 711.7C581.5 711.6 586.0 711.3 591.0 711.2C596.0 711.1 603.0 711.1 607.6 711.2C612.2 711.3 614.9 711.7 618.6 711.7C622.3 711.7 625.9 711.6 629.6 711.4C633.3 711.2 636.9 710.9 640.6 710.4C644.3 709.9 648.0 709.3 651.7 708.4C655.4 707.5 659.0 706.3 662.7 705.1C666.4 703.9 670.0 702.5 673.7 701.3C677.4 700.1 681.0 699.0 684.7 698.0C688.4 697.0 692.1 696.1 695.8 695.2C699.5 694.3 703.1 693.1 706.8 692.4C710.5 691.7 714.5 691.2 717.8 691.0C721.1 690.8 723.8 691.1 726.6 691.3C729.4 691.5 731.3 691.7 734.4 692.2C737.5 692.7 741.7 693.4 745.4 694.3C749.1 695.2 752.7 696.4 756.4 697.4C760.1 698.4 763.3 699.3 767.4 700.2C771.5 701.1 776.9 702.2 781.0 702.9C785.1 703.6 788.4 704.1 792.1 704.4C795.8 704.7 799.4 704.6 803.1 704.6C806.8 704.6 810.4 704.5 814.1 704.4C817.8 704.3 821.4 704.1 825.1 704.0C828.8 703.9 832.7 703.8 836.2 703.7C839.7 703.7 842.4 703.2 846.1 703.7C849.8 704.2 854.0 705.7 858.2 706.8C862.4 707.9 866.8 709.1 871.4 710.1C876.0 711.1 880.6 711.7 885.8 712.6C890.9 713.5 897.7 714.7 902.3 715.3C906.9 715.9 909.6 716.0 913.3 716.2C917.0 716.4 920.7 716.7 924.4 716.7C928.1 716.8 932.1 716.6 935.4 716.5C938.7 716.4 942.7 716.0 944.2 715.9"/>
<path fill="none" stroke="#ff0000" stroke-width="2.4" stroke-linejoin="round" stroke-linecap="round" d="M9.0 269.8C9.8 269.9 8.9 269.8 13.5 270.3C18.1 270.8 30.5 272.4 36.5 272.7C42.5 273.0 45.3 271.9 49.7 272.0C54.1 272.1 56.4 272.5 63.0 273.1C69.6 273.7 80.6 274.7 89.4 275.6C98.2 276.5 107.0 277.6 115.8 278.7C124.6 279.8 134.9 281.3 142.3 282.2C149.7 283.1 155.3 283.7 160.0 284.0C164.7 284.3 166.2 283.9 170.7 284.2C175.2 284.4 182.3 285.3 186.8 285.5C191.3 285.7 193.0 285.6 197.5 285.3C202.0 285.0 209.1 284.4 213.6 283.7C218.1 282.9 219.9 281.8 224.4 280.8C228.9 279.8 236.2 278.6 240.5 277.8C244.8 277.0 246.4 276.8 250.0 275.9C253.6 275.0 257.3 274.1 261.9 272.4C266.5 270.7 273.4 268.0 277.4 265.8C281.4 263.6 282.4 261.5 285.8 259.3C289.2 257.1 293.3 254.9 297.7 252.7C302.1 250.5 308.0 248.2 312.0 246.2C316.0 244.2 318.3 242.5 321.5 240.8C324.7 239.1 327.8 237.4 331.0 236.0C334.2 234.6 337.2 233.8 340.6 232.4C344.0 231.0 347.5 229.1 351.3 227.7C355.1 226.3 359.2 225.0 363.2 224.1C367.2 223.2 370.6 222.7 375.1 222.3C379.6 221.9 385.2 221.8 390.0 221.7C394.8 221.6 397.5 221.9 403.8 221.9C410.1 221.9 421.7 221.9 427.7 221.7C433.7 221.5 435.6 221.1 439.6 220.8C443.6 220.6 447.5 220.3 451.5 220.2C455.5 220.1 458.4 220.1 463.4 220.2C468.4 220.2 475.3 220.2 481.3 220.5C487.3 220.8 494.2 221.2 499.2 221.7C504.2 222.2 507.6 223.0 511.1 223.4C514.6 223.8 516.2 223.8 520.0 224.3C523.8 224.8 527.5 225.3 533.8 226.2C540.1 227.1 549.8 228.8 557.7 229.6C565.7 230.4 575.5 230.4 581.5 230.8C587.5 231.2 588.4 231.5 593.4 232.2C598.4 232.9 605.3 234.1 611.3 234.9C617.3 235.8 624.2 236.9 629.2 237.3C634.2 237.7 637.3 237.2 641.1 237.3C644.9 237.4 647.1 237.9 651.9 237.7C656.7 237.5 663.8 236.4 669.8 235.9C675.8 235.4 681.7 235.0 687.7 234.7C693.7 234.4 700.6 234.0 705.6 233.9C710.6 233.8 712.5 233.7 717.5 233.9C722.5 234.1 729.4 234.7 735.4 235.3C741.4 235.9 747.2 236.9 753.2 237.7C759.2 238.5 766.3 239.5 771.1 240.1C775.9 240.7 777.1 241.1 781.9 241.5C786.7 241.9 793.8 242.2 799.8 242.6C805.8 243.0 812.7 243.8 817.7 244.2C822.7 244.6 825.0 244.6 829.6 244.8C834.2 245.0 841.1 245.0 845.1 245.6C849.1 246.2 850.0 247.5 853.4 248.4C856.8 249.3 861.4 250.1 865.4 250.8C869.4 251.5 873.3 252.0 877.3 252.8C881.3 253.6 885.2 254.5 889.2 255.4C893.2 256.3 897.6 257.5 901.1 258.4C904.6 259.2 902.7 259.1 910.0 260.5C917.3 261.9 938.9 265.9 944.7 267.0"/>
<g shape-rendering="crispEdges">
<rect x="16" y="283" width="1" height="13" fill="#f23645"/>
<rect x="14" y="285" width="5" height="9" fill="#f23645"/>
<rect x="23" y="285" width="1" height="9" fill="#089981"/>
<rect x="21" y="291" width="5" height="3" fill="#089981"/>
<rect x="30" y="284" width="1" height="9" fill="#089981"/>
<rect x="28" y="286" width="5" height="6" fill="#089981"/>
<rect x="36" y="281" width="1" height="8" fill="#089981"/>
<rect x="34" y="285" width="5" height="2" fill="#089981"/>
<rect x="43" y="274" width="1" height="13" fill="#089981"/>
<rect x="41" y="274" width="5" height="12" fill="#089981"/>
<rect x="49" y="270" width="1" height="7" fill="#089981"/>
<rect x="47" y="271" width="5" height="4" fill="#089981"/>
<rect x="56" y="268" width="1" height="12" fill="#f23645"/>
<rect x="54" y="271" width="5" height="8" fill="#f23645"/>
<rect x="62" y="278" width="1" height="11" fill="#f23645"/>
<rect x="60" y="278" width="5" height="11" fill="#f23645"/>
<rect x="69" y="288" width="1" height="10" fill="#f23645"/>
<rect x="67" y="288" width="5" height="3" fill="#f23645"/>
<rect x="76" y="289" width="1" height="5" fill="#f23645"/>
<rect x="74" y="290" width="5" height="3" fill="#f23645"/>
<rect x="82" y="288" width="1" height="5" fill="#089981"/>
<rect x="80" y="290" width="5" height="3" fill="#089981"/>
<rect x="89" y="284" width="1" height="9" fill="#f23645"/>
<rect x="87" y="290" width="5" height="3" fill="#f23645"/>
<rect x="95" y="290" width="1" height="8" fill="#f23645"/>
<rect x="93" y="292" width="5" height="5" fill="#f23645"/>
<rect x="102" y="294" width="1" height="7" fill="#089981"/>
<rect x="100" y="294" width="5" height="3" fill="#089981"/>
<rect x="108" y="293" width="1" height="4" fill="#f23645"/>
<rect x="106" y="294" width="5" height="1" fill="#f23645"/>
<rect x="115" y="292" width="1" height="10" fill="#f23645"/>
<rect x="113" y="295" width="5" height="5" fill="#f23645"/>
<rect x="122" y="298" width="1" height="10" fill="#f23645"/>
<rect x="120" y="299" width="5" height="6" fill="#f23645"/>
<rect x="128" y="303" width="1" height="10" fill="#f23645"/>
<rect x="126" y="304" width="5" height="5" fill="#f23645"/>
<rect x="135" y="296" width="1" height="13" fill="#089981"/>
<rect x="133" y="297" width="5" height="12" fill="#089981"/>
<rect x="141" y="293" width="1" height="5" fill="#089981"/>
<rect x="139" y="295" width="5" height="3" fill="#089981"/>
<rect x="148" y="294" width="1" height="5" fill="#f23645"/>
<rect x="146" y="295" width="5" height="4" fill="#f23645"/>
<rect x="154" y="296" width="1" height="7" fill="#f23645"/>
<rect x="152" y="298" width="5" height="5" fill="#f23645"/>
<rect x="161" y="298" width="1" height="5" fill="#089981"/>
<rect x="159" y="301" width="5" height="2" fill="#089981"/>
<rect x="168" y="291" width="1" height="11" fill="#089981"/>
<rect x="166" y="291" width="5" height="11" fill="#089981"/>
<rect x="174" y="290" width="1" height="3" fill="#089981"/>
<rect x="172" y="290" width="5" height="2" fill="#089981"/>
<rect x="181" y="289" width="1" height="7" fill="#f23645"/>
<rect x="179" y="290" width="5" height="4" fill="#f23645"/>
<rect x="187" y="293" width="1" height="7" fill="#f23645"/>
<rect x="185" y="293" width="5" height="7" fill="#f23645"/>
<rect x="194" y="284" width="1" height="16" fill="#089981"/>
<rect x="192" y="285" width="5" height="15" fill="#089981"/>
<rect x="201" y="274" width="1" height="12" fill="#089981"/>
<rect x="199" y="279" width="5" height="7" fill="#089981"/>
<rect x="207" y="271" width="1" height="12" fill="#089981"/>
<rect x="205" y="274" width="5" height="6" fill="#089981"/>
<rect x="214" y="262" width="1" height="14" fill="#089981"/>
<rect x="212" y="264" width="5" height="11" fill="#089981"/>
<rect x="220" y="236" width="1" height="29" fill="#089981"/>
<rect x="218" y="244" width="5" height="21" fill="#089981"/>
<rect x="227" y="233" width="1" height="17" fill="#089981"/>
<rect x="225" y="239" width="5" height="6" fill="#089981"/>
<rect x="233" y="231" width="1" height="16" fill="#f23645"/>
<rect x="231" y="239" width="5" height="6" fill="#f23645"/>
<rect x="240" y="241" width="1" height="18" fill="#f23645"/>
<rect x="238" y="244" width="5" height="7" fill="#f23645"/>
<rect x="247" y="228" width="1" height="26" fill="#089981"/>
<rect x="245" y="232" width="5" height="19" fill="#089981"/>
<rect x="253" y="227" width="1" height="17" fill="#f23645"/>
<rect x="251" y="232" width="5" height="10" fill="#f23645"/>
<rect x="260" y="215" width="1" height="32" fill="#089981"/>
<rect x="258" y="223" width="5" height="19" fill="#089981"/>
<rect x="266" y="206" width="1" height="23" fill="#089981"/>
<rect x="264" y="215" width="5" height="9" fill="#089981"/>
<rect x="273" y="203" width="1" height="15" fill="#089981"/>
<rect x="271" y="212" width="5" height="4" fill="#089981"/>
<rect x="279" y="187" width="1" height="26" fill="#089981"/>
<rect x="277" y="194" width="5" height="19" fill="#089981"/>
<rect x="286" y="131" width="1" height="64" fill="#089981"/>
<rect x="284" y="135" width="5" height="60" fill="#089981"/>
<rect x="293" y="121" width="1" height="47" fill="#f23645"/>
<rect x="291" y="135" width="5" height="24" fill="#f23645"/>
<rect x="299" y="146" width="1" height="36" fill="#f23645"/>
<rect x="297" y="158" width="5" height="18" fill="#f23645"/>
<rect x="306" y="161" width="1" height="20" fill="#089981"/>
<rect x="304" y="171" width="5" height="5" fill="#089981"/>
<rect x="312" y="157" width="1" height="19" fill="#f23645"/>
<rect x="310" y="171" width="5" height="3" fill="#f23645"/>
<rect x="319" y="146" width="1" height="30" fill="#089981"/>
<rect x="317" y="161" width="5" height="13" fill="#089981"/>
<rect x="326" y="145" width="1" height="28" fill="#089981"/>
<rect x="324" y="146" width="5" height="16" fill="#089981"/>
<rect x="332" y="139" width="1" height="46" fill="#f23645"/>
<rect x="330" y="146" width="5" height="16" fill="#f23645"/>
<rect x="339" y="141" width="1" height="41" fill="#f23645"/>
<rect x="337" y="161" width="5" height="11" fill="#f23645"/>
<rect x="345" y="153" width="1" height="27" fill="#089981"/>
<rect x="343" y="157" width="5" height="15" fill="#089981"/>
<rect x="352" y="150" width="1" height="16" fill="#f23645"/>
<rect x="350" y="157" width="5" height="5" fill="#f23645"/>
<rect x="358" y="155" width="1" height="15" fill="#f23645"/>
<rect x="356" y="161" width="5" height="7" fill="#f23645"/>
<rect x="365" y="147" width="1" height="33" fill="#f23645"/>
<rect x="363" y="167" width="5" height="11" fill="#f23645"/>
<rect x="372" y="173" width="1" height="31" fill="#f23645"/>
<rect x="370" y="177" width="5" height="24" fill="#f23645"/>
<rect x="378" y="196" width="1" height="20" fill="#f23645"/>
<rect x="376" y="200" width="5" height="3" fill="#f23645"/>
<rect x="385" y="191" width="1" height="27" fill="#f23645"/>
<rect x="383" y="202" width="5" height="16" fill="#f23645"/>
<rect x="391" y="210" width="1" height="17" fill="#f23645"/>
<rect x="389" y="217" width="5" height="5" fill="#f23645"/>
<rect x="398" y="217" width="1" height="13" fill="#f23645"/>
<rect x="396" y="221" width="5" height="5" fill="#f23645"/>
<rect x="404" y="214" width="1" height="14" fill="#089981"/>
<rect x="402" y="217" width="5" height="9" fill="#089981"/>
<rect x="411" y="209" width="1" height="9" fill="#089981"/>
<rect x="409" y="214" width="5" height="4" fill="#089981"/>
<rect x="418" y="213" width="1" height="22" fill="#f23645"/>
<rect x="416" y="214" width="5" height="16" fill="#f23645"/>
<rect x="424" y="225" width="1" height="9" fill="#089981"/>
<rect x="422" y="228" width="5" height="3" fill="#089981"/>
<rect x="431" y="217" width="1" height="13" fill="#089981"/>
<rect x="429" y="218" width="5" height="11" fill="#089981"/>
<rect x="437" y="212" width="1" height="10" fill="#089981"/>
<rect x="435" y="217" width="5" height="1" fill="#089981"/>
<rect x="444" y="202" width="1" height="18" fill="#089981"/>
<rect x="442" y="209" width="5" height="9" fill="#089981"/>
<rect x="451" y="200" width="1" height="16" fill="#089981"/>
<rect x="449" y="207" width="5" height="3" fill="#089981"/>
<rect x="457" y="201" width="1" height="26" fill="#f23645"/>
<rect x="455" y="207" width="5" height="19" fill="#f23645"/>
<rect x="464" y="217" width="1" height="15" fill="#089981"/>
<rect x="462" y="221" width="5" height="5" fill="#089981"/>
<rect x="470" y="205" width="1" height="17" fill="#089981"/>
<rect x="468" y="208" width="5" height="14" fill="#089981"/>
<rect x="477" y="203" width="1" height="33" fill="#f23645"/>
<rect x="475" y="208" width="5" height="25" fill="#f23645"/>
<rect x="483" y="225" width="1" height="14" fill="#f23645"/>
<rect x="481" y="232" width="5" height="2" fill="#f23645"/>
<rect x="490" y="228" width="1" height="6" fill="#089981"/>
<rect x="488" y="229" width="5" height="5" fill="#089981"/>
<rect x="497" y="226" width="1" height="7" fill="#f23645"/>
<rect x="495" y="229" width="5" height="4" fill="#f23645"/>
<rect x="503" y="232" width="1" height="11" fill="#f23645"/>
<rect x="501" y="232" width="5" height="9" fill="#f23645"/>
<rect x="510" y="238" width="1" height="11" fill="#f23645"/>
<rect x="508" y="240" width="5" height="9" fill="#f23645"/>
<rect x="516" y="241" width="1" height="10" fill="#089981"/>
<rect x="514" y="242" width="5" height="7" fill="#089981"/>
<rect x="523" y="241" width="1" height="9" fill="#f23645"/>
<rect x="521" y="242" width="5" height="7" fill="#f23645"/>
<rect x="529" y="231" width="1" height="23" fill="#089981"/>
<rect x="527" y="232" width="5" height="17" fill="#089981"/>
<rect x="536" y="232" width="1" height="8" fill="#f23645"/>
<rect x="534" y="232" width="5" height="6" fill="#f23645"/>
<rect x="543" y="235" width="1" height="11" fill="#f23645"/>
<rect x="541" y="237" width="5" height="6" fill="#f23645"/>
<rect x="549" y="241" width="1" height="19" fill="#f23645"/>
<rect x="547" y="242" width="5" height="16" fill="#f23645"/>
<rect x="556" y="247" width="1" height="11" fill="#089981"/>
<rect x="554" y="249" width="5" height="9" fill="#089981"/>
<rect x="562" y="245" width="1" height="6" fill="#f23645"/>
<rect x="560" y="249" width="5" height="2" fill="#f23645"/>
<rect x="569" y="245" width="1" height="6" fill="#089981"/>
<rect x="567" y="247" width="5" height="4" fill="#089981"/>
<rect x="575" y="239" width="1" height="20" fill="#089981"/>
<rect x="573" y="245" width="5" height="3" fill="#089981"/>
<rect x="582" y="235" width="1" height="15" fill="#089981"/>
<rect x="580" y="241" width="5" height="5" fill="#089981"/>
<rect x="589" y="237" width="1" height="6" fill="#f23645"/>
<rect x="587" y="241" width="5" height="2" fill="#f23645"/>
<rect x="595" y="241" width="1" height="17" fill="#f23645"/>
<rect x="593" y="242" width="5" height="15" fill="#f23645"/>
<rect x="602" y="252" width="1" height="7" fill="#089981"/>
<rect x="600" y="253" width="5" height="4" fill="#089981"/>
<rect x="608" y="252" width="1" height="4" fill="#f23645"/>
<rect x="606" y="253" width="5" height="1" fill="#f23645"/>
<rect x="615" y="253" width="1" height="10" fill="#f23645"/>
<rect x="613" y="253" width="5" height="9" fill="#f23645"/>
<rect x="622" y="253" width="1" height="9" fill="#089981"/>
<rect x="620" y="256" width="5" height="6" fill="#089981"/>
<rect x="628" y="254" width="1" height="5" fill="#f23645"/>
<rect x="626" y="256" width="5" height="3" fill="#f23645"/>
<rect x="635" y="249" width="1" height="10" fill="#089981"/>
<rect x="633" y="250" width="5" height="9" fill="#089981"/>
<rect x="641" y="234" width="1" height="18" fill="#089981"/>
<rect x="639" y="236" width="5" height="16" fill="#089981"/>
<rect x="648" y="230" width="1" height="11" fill="#f23645"/>
<rect x="646" y="236" width="5" height="4" fill="#f23645"/>
<rect x="654" y="233" width="1" height="8" fill="#089981"/>
<rect x="652" y="236" width="5" height="2" fill="#089981"/>
<rect x="661" y="227" width="1" height="12" fill="#089981"/>
<rect x="659" y="228" width="5" height="9" fill="#089981"/>
<rect x="668" y="218" width="1" height="12" fill="#089981"/>
<rect x="666" y="220" width="5" height="9" fill="#089981"/>
<rect x="674" y="210" width="1" height="11" fill="#089981"/>
<rect x="672" y="217" width="5" height="4" fill="#089981"/>
<rect x="681" y="217" width="1" height="12" fill="#f23645"/>
<rect x="679" y="217" width="5" height="11" fill="#f23645"/>
<rect x="687" y="226" width="1" height="15" fill="#f23645"/>
<rect x="685" y="227" width="5" height="10" fill="#f23645"/>
<rect x="694" y="229" width="1" height="9" fill="#089981"/>
<rect x="692" y="230" width="5" height="7" fill="#089981"/>
<rect x="700" y="218" width="1" height="17" fill="#089981"/>
<rect x="698" y="222" width="5" height="9" fill="#089981"/>
<rect x="707" y="218" width="1" height="10" fill="#f23645"/>
<rect x="705" y="222" width="5" height="1" fill="#f23645"/>
<rect x="714" y="220" width="1" height="14" fill="#f23645"/>
<rect x="712" y="223" width="5" height="11" fill="#f23645"/>
<rect x="720" y="232" width="1" height="7" fill="#f23645"/>
<rect x="718" y="233" width="5" height="6" fill="#f23645"/>
<rect x="727" y="236" width="1" height="7" fill="#f23645"/>
<rect x="725" y="237" width="5" height="6" fill="#f23645"/>
<rect x="733" y="241" width="1" height="18" fill="#f23645"/>
<rect x="731" y="242" width="5" height="12" fill="#f23645"/>
<rect x="740" y="248" width="1" height="10" fill="#f23645"/>
<rect x="738" y="253" width="5" height="3" fill="#f23645"/>
<rect x="747" y="251" width="1" height="8" fill="#f23645"/>
<rect x="745" y="255" width="5" height="1" fill="#f23645"/>
<rect x="753" y="255" width="1" height="11" fill="#f23645"/>
<rect x="751" y="256" width="5" height="10" fill="#f23645"/>
<rect x="760" y="259" width="1" height="7" fill="#089981"/>
<rect x="758" y="259" width="5" height="7" fill="#089981"/>
<rect x="766" y="259" width="1" height="5" fill="#f23645"/>
<rect x="764" y="259" width="5" height="5" fill="#f23645"/>
<rect x="773" y="260" width="1" height="7" fill="#089981"/>
<rect x="771" y="260" width="5" height="4" fill="#089981"/>
<rect x="779" y="258" width="1" height="8" fill="#f23645"/>
<rect x="777" y="260" width="5" height="2" fill="#f23645"/>
<rect x="786" y="260" width="1" height="8" fill="#f23645"/>
<rect x="784" y="261" width="5" height="3" fill="#f23645"/>
<rect x="793" y="252" width="1" height="12" fill="#089981"/>
<rect x="791" y="253" width="5" height="11" fill="#089981"/>
<rect x="799" y="251" width="1" height="8" fill="#089981"/>
<rect x="797" y="252" width="5" height="2" fill="#089981"/>
<rect x="806" y="250" width="1" height="9" fill="#089981"/>
<rect x="804" y="252" width="5" height="1" fill="#089981"/>
<rect x="812" y="246" width="1" height="14" fill="#f23645"/>
<rect x="810" y="252" width="5" height="6" fill="#f23645"/>
<rect x="819" y="249" width="1" height="11" fill="#f23645"/>
<rect x="817" y="257" width="5" height="3" fill="#f23645"/>
<rect x="825" y="244" width="1" height="17" fill="#089981"/>
<rect x="823" y="245" width="5" height="15" fill="#089981"/>
<rect x="832" y="244" width="1" height="16" fill="#f23645"/>
<rect x="830" y="245" width="5" height="15" fill="#f23645"/>
<rect x="839" y="254" width="1" height="6" fill="#089981"/>
<rect x="837" y="256" width="5" height="4" fill="#089981"/>
<rect x="845" y="256" width="1" height="10" fill="#f23645"/>
<rect x="843" y="256" width="5" height="9" fill="#f23645"/>
<rect x="852" y="260" width="1" height="101" fill="#f23645"/>
<rect x="850" y="264" width="5" height="38" fill="#f23645"/>
<rect x="858" y="287" width="1" height="15" fill="#089981"/>
<rect x="856" y="300" width="5" height="2" fill="#089981"/>
<rect x="865" y="284" width="1" height="18" fill="#089981"/>
<rect x="863" y="287" width="5" height="14" fill="#089981"/>
<rect x="872" y="277" width="1" height="12" fill="#089981"/>
<rect x="870" y="279" width="5" height="9" fill="#089981"/>
<rect x="878" y="278" width="1" height="12" fill="#f23645"/>
<rect x="876" y="279" width="5" height="4" fill="#f23645"/>
<rect x="885" y="279" width="1" height="12" fill="#f23645"/>
<rect x="883" y="282" width="5" height="8" fill="#f23645"/>
<rect x="891" y="286" width="1" height="10" fill="#f23645"/>
<rect x="889" y="289" width="5" height="6" fill="#f23645"/>
<rect x="898" y="292" width="1" height="10" fill="#f23645"/>
<rect x="896" y="294" width="5" height="3" fill="#f23645"/>
<rect x="904" y="292" width="1" height="5" fill="#089981"/>
<rect x="902" y="295" width="5" height="2" fill="#089981"/>
<rect x="911" y="290" width="1" height="7" fill="#089981"/>
<rect x="909" y="292" width="5" height="4" fill="#089981"/>
<rect x="918" y="286" width="1" height="9" fill="#089981"/>
<rect x="916" y="290" width="5" height="3" fill="#089981"/>
<rect x="924" y="286" width="1" height="9" fill="#f23645"/>
<rect x="922" y="290" width="5" height="5" fill="#f23645"/>
<rect x="931" y="292" width="1" height="8" fill="#f23645"/>
<rect x="929" y="294" width="5" height="5" fill="#f23645"/>
<rect x="937" y="291" width="1" height="8" fill="#089981"/>
<rect x="935" y="293" width="5" height="6" fill="#089981"/>
<rect x="944" y="291" width="1" height="3" fill="#089981"/>
<rect x="942" y="292" width="5" height="2" fill="#089981"/>
</g>
<line x1="13" y1="166" x2="1695" y2="166" stroke="#787b86" stroke-width="2" stroke-dasharray="2 4"/>
<line x1="13" y1="292.5" x2="1695" y2="292.5" stroke="#089981" stroke-width="1" stroke-dasharray="1 2"/>
<line x1="233.2" y1="239" x2="1695" y2="239" stroke="#f23645" stroke-width="2" stroke-dasharray="10 12"/>
<g stroke="#000" stroke-width="1" shape-rendering="crispEdges"><line x1="825" y1="243.5" x2="1286.5" y2="243.5"/><line x1="825" y1="302.5" x2="1286.5" y2="302.5"/><line x1="825" y1="361.5" x2="1286.5" y2="361.5"/></g>
<line x1="291.9" y1="120.9" x2="1135.2" y2="314.5" stroke="#ff9800" stroke-width="2.2" stroke-linecap="round"/>
<path fill="none" stroke="#4caf50" stroke-width="1.3" stroke-linejoin="round" stroke-linecap="round" d="M951.5 291.2C952.5 290.9 954.7 290.5 957.2 289.4C959.7 288.3 963.5 286.0 966.7 284.6C969.9 283.2 973.5 281.7 976.3 280.8C979.1 279.9 981.2 279.9 983.4 279.2C985.6 278.4 987.6 277.6 989.4 276.3C991.2 275.0 992.9 273.1 994.2 271.5C995.5 269.9 996.2 267.6 997.1 266.5C998.0 265.4 998.7 265.3 999.5 265.2C1000.3 265.1 1000.8 265.3 1001.9 266.1C1003.0 266.9 1004.8 269.1 1006.1 270.1C1007.4 271.1 1008.5 271.7 1009.7 272.1C1010.9 272.5 1011.8 272.6 1013.2 272.4C1014.6 272.2 1016.4 271.8 1018.0 270.9C1019.6 270.0 1021.2 268.9 1022.8 267.3C1024.4 265.7 1025.9 263.5 1027.5 261.4C1029.1 259.3 1030.7 256.7 1032.3 254.8C1033.9 252.9 1035.3 251.1 1037.1 249.8C1038.8 248.5 1041.8 247.6 1042.8 247.1"/>
</g>
<text x="1297.4" y="247.0" font-size="15.0" fill="#000" textLength="143.5" lengthAdjust="spacingAndGlyphs">100.00% (0.00002216)</text>
<text x="1297.4" y="307.4" font-size="15.0" fill="#000" textLength="136.5" lengthAdjust="spacingAndGlyphs">50.00% (0.00001315)</text>
<text x="1297.4" y="366.4" font-size="15.0" fill="#000" textLength="128.3" lengthAdjust="spacingAndGlyphs">0.00% (0.00000413)</text>
<text x="1623.8" y="231.3" font-size="15.0" fill="#f23645" font-weight="bold" textLength="61.4" lengthAdjust="spacingAndGlyphs">Daily S/R</text>
<text x="23.6" y="30.7" font-size="14.8" fill="#131722" textLength="211.8" lengthAdjust="spacingAndGlyphs">BONK / TetherUS · 1D · Binance</text>
<text x="245.2" y="30.7" font-size="14.8" fill="#131722" textLength="9.6" lengthAdjust="spacingAndGlyphs">O</text>
<text x="255.6" y="30.7" font-size="14.8" fill="#089981" textLength="74.5" lengthAdjust="spacingAndGlyphs">0.00001453</text>
<text x="340.5" y="30.7" font-size="14.8" fill="#131722" textLength="9.2" lengthAdjust="spacingAndGlyphs">H</text>
<text x="350.4" y="30.7" font-size="14.8" fill="#089981" textLength="74.6" lengthAdjust="spacingAndGlyphs">0.00001479</text>
<text x="435.6" y="30.7" font-size="14.8" fill="#131722" textLength="7.2" lengthAdjust="spacingAndGlyphs">L</text>
<text x="443.3" y="30.7" font-size="14.8" fill="#089981" textLength="75.2" lengthAdjust="spacingAndGlyphs">0.00001434</text>
<text x="528.4" y="30.7" font-size="14.8" fill="#131722" textLength="8.6" lengthAdjust="spacingAndGlyphs">C</text>
<text x="537.7" y="30.7" font-size="14.8" fill="#089981" textLength="75.3" lengthAdjust="spacingAndGlyphs">0.00001474</text>
<text x="623.2" y="30.7" font-size="14.8" fill="#089981" textLength="81.4" lengthAdjust="spacingAndGlyphs">+0.00000021</text>
<text x="712.5" y="30.7" font-size="14.8" fill="#089981" textLength="55.1" lengthAdjust="spacingAndGlyphs">(+1.45%)</text>
<g stroke="#e0e3eb" stroke-width="1" shape-rendering="crispEdges"><line x1="14" y1="408.5" x2="1800" y2="408.5"/><line x1="14" y1="549.5" x2="1800" y2="549.5"/><line x1="14" y1="618.5" x2="1800" y2="618.5"/></g>
<g clip-path="url(#cax)">
<text x="1704.8" y="65.9" font-size="15.2" fill="#131722" textLength="76.7" lengthAdjust="spacingAndGlyphs">0.00005000</text>
<text x="1704.8" y="131.3" font-size="15.2" fill="#131722" textLength="76.7" lengthAdjust="spacingAndGlyphs">0.00004000</text>
<text x="1704.8" y="197.2" font-size="15.2" fill="#131722" textLength="76.7" lengthAdjust="spacingAndGlyphs">0.00003000</text>
<text x="1704.8" y="262.2" font-size="15.2" fill="#131722" textLength="76.7" lengthAdjust="spacingAndGlyphs">0.00002000</text>
<text x="1704.8" y="328.2" font-size="15.2" fill="#131722" textLength="76.7" lengthAdjust="spacingAndGlyphs">0.00001000</text>
<text x="1704.8" y="393.2" font-size="15.2" fill="#131722" textLength="76.7" lengthAdjust="spacingAndGlyphs">0.00000000</text>
<text x="1704.8" y="439.4" font-size="15.2" fill="#131722" textLength="36.7" lengthAdjust="spacingAndGlyphs">80.00</text>
<text x="1704.8" y="478.5" font-size="15.2" fill="#131722" textLength="36.7" lengthAdjust="spacingAndGlyphs">60.00</text>
<text x="1704.8" y="517.8" font-size="15.2" fill="#131722" textLength="36.7" lengthAdjust="spacingAndGlyphs">40.00</text>
<text x="1705.8" y="560.6" font-size="15.0" fill="#131722" textLength="25.5" lengthAdjust="spacingAndGlyphs">10 T</text>
<text x="1704.8" y="633.5" font-size="15.2" fill="#131722" textLength="76.7" lengthAdjust="spacingAndGlyphs">0.00000500</text>
<text x="1704.8" y="699.4" font-size="15.2" fill="#131722" textLength="76.7" lengthAdjust="spacingAndGlyphs">0.00000000</text>
<path d="M1695.0 156.2 H1787.0 Q1789.0 156.2 1789.0 158.2 V174.7 Q1789.0 176.7 1787.0 176.7 H1695.0 Z" fill="#787b86"/>
<text x="1706.0" y="171.8" font-size="14.8" fill="#fff" textLength="76.3" lengthAdjust="spacingAndGlyphs">0.00003389</text>
<path d="M1695.0 229.1 H1787.0 Q1789.0 229.1 1789.0 231.1 V247.6 Q1789.0 249.6 1787.0 249.6 H1695.0 Z" fill="#f23645"/>
<text x="1706.0" y="244.7" font-size="14.8" fill="#fff" textLength="76.3" lengthAdjust="spacingAndGlyphs">0.00002279</text>
<path d="M1695.0 257.0 H1787.0 Q1789.0 257.0 1789.0 259.0 V275.9 Q1789.0 277.9 1787.0 277.9 H1695.0 Z" fill="#ff0000"/>
<text x="1706.0" y="272.8" font-size="14.8" fill="#fff" textLength="76.3" lengthAdjust="spacingAndGlyphs">0.00001850</text>
<path d="M1695.0 282.1 H1787.0 Q1789.0 282.1 1789.0 284.1 V318.7 Q1789.0 320.7 1787.0 320.7 H1695.0 Z" fill="#089981"/>
<text x="1706.0" y="298.1" font-size="14.5" fill="#fff" textLength="76.3" lengthAdjust="spacingAndGlyphs">0.00001474</text>
<text x="1706.7" y="315.7" font-size="14.5" fill="#fff" textLength="57.2" lengthAdjust="spacingAndGlyphs" fill-opacity="0.78">18:56:03</text>
<path d="M1695.0 500.0 H1746.8 Q1748.8 500.0 1748.8 502.0 V518.8 Q1748.8 520.8 1746.8 520.8 H1695.0 Z" fill="#7e57c2"/>
<text x="1706.0" y="515.7" font-size="14.8" fill="#fff" textLength="36.9" lengthAdjust="spacingAndGlyphs">40.76</text>
<path d="M1695.0 522.2 H1746.8 Q1748.8 522.2 1748.8 524.2 V540.7 Q1748.8 542.7 1746.8 542.7 H1695.0 Z" fill="#fdd835"/>
<text x="1706.5" y="537.8" font-size="14.8" fill="#131722" textLength="35.5" lengthAdjust="spacingAndGlyphs">37.53</text>
<path d="M1695.0 597.0 H1765.7 Q1767.7 597.0 1767.7 599.0 V615.8 Q1767.7 617.8 1765.7 617.8 H1695.0 Z" fill="#26a69a"/>
<text x="1706.7" y="612.7" font-size="14.8" fill="#fff" textLength="55.3" lengthAdjust="spacingAndGlyphs">191.34 B</text>
<path d="M1695.0 683.0 H1787.0 Q1789.0 683.0 1789.0 685.0 V701.6 Q1789.0 703.6 1787.0 703.6 H1695.0 Z" fill="#26a69a"/>
<text x="1706.0" y="698.6" font-size="14.8" fill="#fff" textLength="76.3" lengthAdjust="spacingAndGlyphs">0.00000009</text>
<path d="M1695.0 725.0 H1795.0 Q1797.0 725.0 1797.0 727.0 V744.0 Q1797.0 746.0 1795.0 746.0 H1695.0 Z" fill="#ff6d00"/>
<path d="M1695.0 705.0 H1795.0 Q1797.0 705.0 1797.0 707.0 V723.8 Q1797.0 725.8 1795.0 725.8 H1695.0 Z" fill="#2962ff"/>
<text x="1706.2" y="720.7" font-size="14.8" fill="#fff" textLength="83.9" lengthAdjust="spacingAndGlyphs">−0.00000155</text>
</g>
<rect x="1699.5" y="11" width="98.5" height="32.5" rx="5" ry="5" fill="#fff" stroke="#f0f1f3" stroke-width="1.6"/>
<text x="1710.5" y="31.9" font-size="14.8" fill="#131722" textLength="34.3" lengthAdjust="spacingAndGlyphs">USDT</text>
<text x="178.0" y="751.7" font-size="14.6" fill="#131722" textLength="19.0" lengthAdjust="spacingAndGlyphs">Jul</text>
<text x="379.3" y="751.7" font-size="14.6" fill="#131722" textLength="24.2" lengthAdjust="spacingAndGlyphs">Aug</text>
<text x="584.0" y="751.7" font-size="14.6" fill="#131722" textLength="22.8" lengthAdjust="spacingAndGlyphs">Sep</text>
<text x="781.4" y="751.7" font-size="14.6" fill="#131722" textLength="23.2" lengthAdjust="spacingAndGlyphs">Oct</text>
<text x="984.6" y="751.7" font-size="14.6" fill="#131722" textLength="24.8" lengthAdjust="spacingAndGlyphs">Nov</text>
<text x="1182.4" y="751.7" font-size="14.6" fill="#131722" textLength="23.4" lengthAdjust="spacingAndGlyphs">Dec</text>
<text x="1381.0" y="751.7" font-size="14.6" fill="#131722" font-weight="bold" textLength="33.9" lengthAdjust="spacingAndGlyphs">2026</text>
<text x="1590.2" y="751.7" font-size="14.6" fill="#131722" textLength="23.7" lengthAdjust="spacingAndGlyphs">Feb</text>
<g fill="#131313"><path d="M15.2 791.4H30.6V809.8H23.05V798.6H15.2Z"/><circle cx="36.8" cy="795.1" r="3.95"/><path d="M44.3 791.4H52.7L45.75 809.8H37.2Z"/></g>
<text x="62.2" y="809.7" font-size="25.4" fill="#131313" font-weight="bold" textLength="151.0" lengthAdjust="spacingAndGlyphs">TradingView</text>
</svg></body></html>
